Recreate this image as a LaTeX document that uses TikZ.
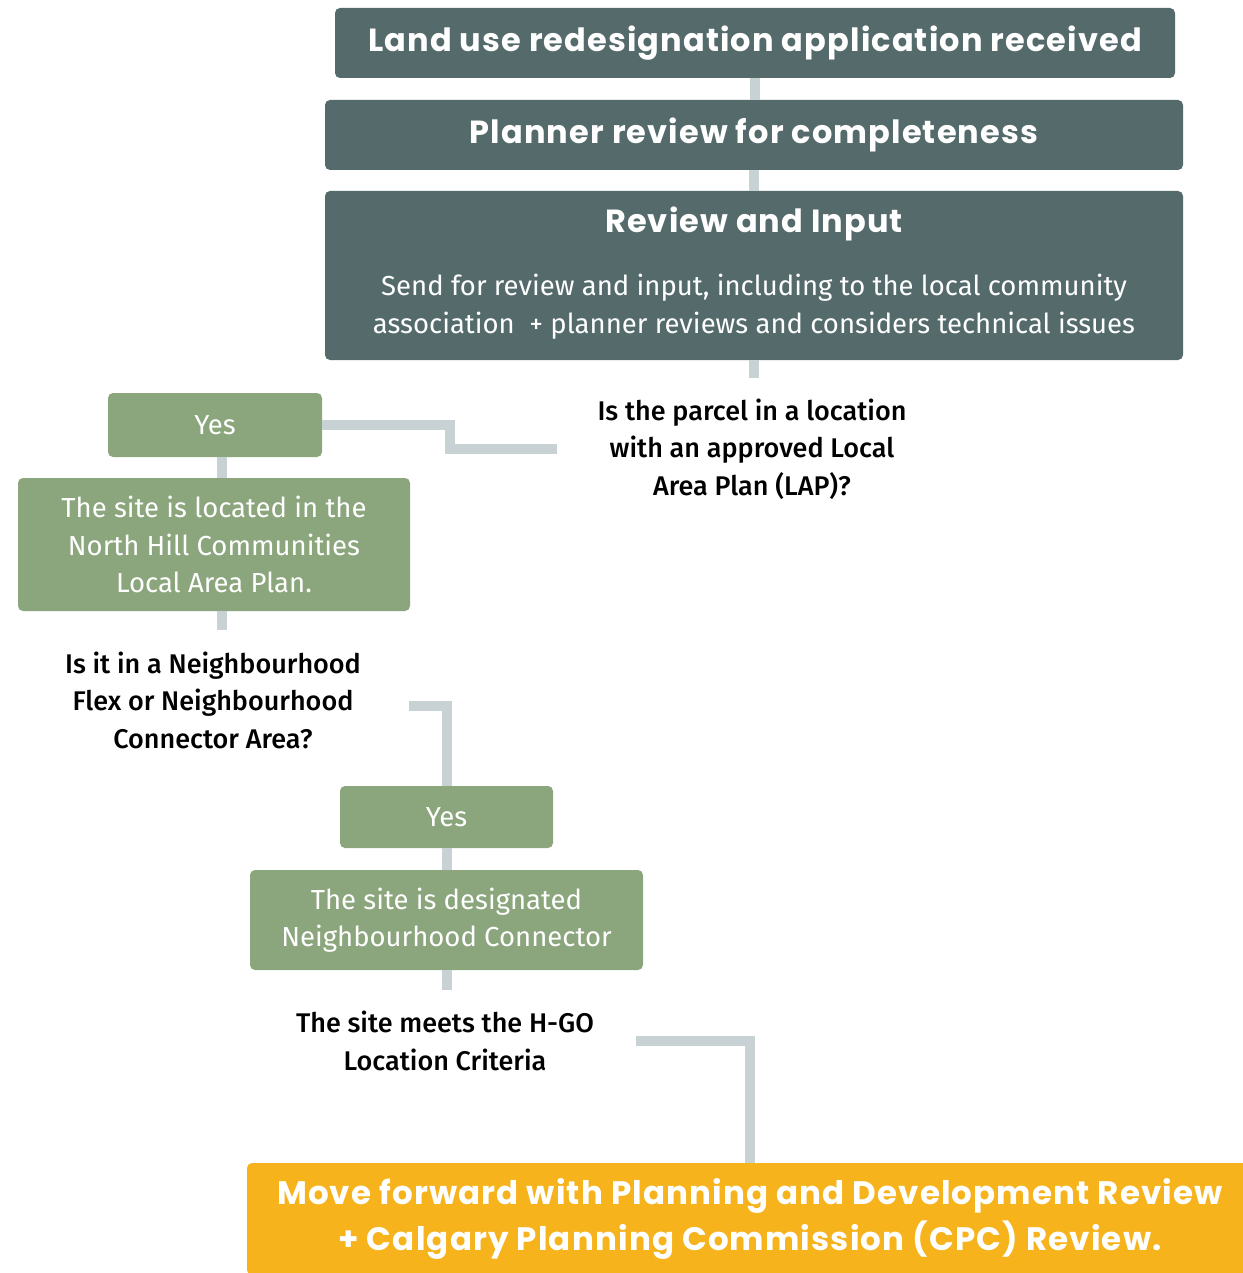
\documentclass[tikz,border=0pt]{standalone}
\usepackage{fontspec}
\setmainfont{Fira Sans}
\newfontfamily\medfont{Fira Sans Medium}
\newfontfamily\titlefont{Poppins}[LetterSpace=3.5]
\definecolor{darkc}{HTML}{546A6B}
\definecolor{greenc}{HTML}{8BA57C}
\definecolor{orangec}{HTML}{F6B31C}
\definecolor{connc}{HTML}{C8D1D3}
\tikzset{
  darkbox/.style={fill=darkc, rounded corners=5pt, text=white, inner sep=0pt,
    font=\titlefont\bfseries\fontsize{32}{37}\selectfont},
  greenbox/.style={fill=greenc, rounded corners=5pt, text=white, align=center, inner sep=0pt,
    font=\fontsize{27.5}{37.5}\selectfont},
  qtext/.style={align=center, text=black, inner sep=0pt, font=\medfont\fontsize{27}{37.5}\selectfont},
  conn/.style={draw=connc, line width=10pt},
}
\begin{document}
\begin{tikzpicture}[x=1pt,y=-1pt]
\useasboundingbox (0,0) rectangle (1242,1273);
\node[darkbox, minimum width=840pt, minimum height=70pt] (box1) at (755,43) {Land use redesignation application received};
\node[darkbox, minimum width=858pt, minimum height=70pt] (box2) at (754,135) {Planner review for completeness};
\node[darkbox, minimum width=858pt, minimum height=169pt] (box3) at (754,275.5) {};
\node[text=white, inner sep=0pt, font=\titlefont\bfseries\fontsize{32}{37}\selectfont] (box3title) at (754,224) {Review and Input};
\node[text=white, inner sep=0pt, align=center, font=\fontsize{27.5}{38}\selectfont] (box3body) at (754,307) {Send for review and input, including to the local community\\association \ + planner reviews and considers technical issues};
\coordinate (stub1) at (754,378);
\node[qtext] (q1) at (752,449) {Is the parcel in a location\\with an approved Local\\Area Plan (LAP)?};
\node[greenbox, minimum width=214pt, minimum height=64pt] (yes1) at (215,425) {Yes};
\node[greenbox, minimum width=392pt, minimum height=133pt] (site1) at (214,544.5) {The site is located in the\\North Hill Communities\\Local Area Plan.};
\coordinate (stub2) at (222,630);
\node[qtext] (q2) at (213,700) {Is it in a Neighbourhood\\Flex or Neighbourhood\\Connector Area?};
\node[greenbox, minimum width=213pt, minimum height=62pt] (yes2) at (446.5,817) {Yes};
\node[greenbox, minimum width=393pt, minimum height=100pt] (site2) at (446.5,920) {The site is designated\\Neighbourhood Connector};
\coordinate (stub3) at (446.5,990);
\node[qtext] (q3) at (445,1041) {The site meets the H-GO\\Location Criteria};
\node[fill=orangec, rounded corners=5pt, text=white, align=center, inner sep=0pt,
  minimum width=1006pt, minimum height=112pt,
  font=\titlefont\bfseries\fontsize{32.5}{46}\selectfont] (orange) at (750,1219) {Move forward with Planning and Development Review\\+ Calgary Planning Commission (CPC) Review.};
\draw[conn] (box1.south) -- (box1.south |- box2.north);
\draw[conn] (box2.south) -- (box3.north);
\draw[conn] (box3.south) -- (stub1);
\draw[conn] ([xshift=-40pt]q1.west) -- ++(-107,0) |- (yes1.east);
\draw[conn] ([xshift=7pt]yes1.south) -- ([xshift=7pt]yes1.south |- site1.north);
\draw[conn] ([xshift=8pt]site1.south) -- (stub2);
\draw[conn] ([xshift=48pt,yshift=-6pt]q2.east) -| (yes2.north);
\draw[conn] (yes2.south) -- (site2.north);
\draw[conn] (site2.south) -- (stub3);
\draw[conn] ([xshift=42pt]q3.east) -| (orange.north);
\end{tikzpicture}
\end{document}
